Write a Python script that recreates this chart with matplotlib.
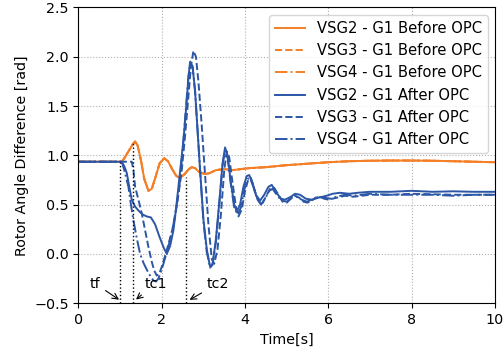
import matplotlib
matplotlib.use('Agg')
import matplotlib.pyplot as plt

plt.rcParams['font.size'] = 10.3

# orange: before OPC (all three traces lie on top of each other)
t_before = [0, 1.0, 1.05, 1.1, 1.2, 1.3, 1.36, 1.42, 1.5, 1.58, 1.68, 1.76, 1.85,
            1.95, 2.06, 2.15, 2.25, 2.35, 2.44, 2.55, 2.65, 2.72, 2.8, 2.9, 3.04,
            3.15, 3.3, 3.5, 3.7, 3.9, 4.1, 4.5, 5.0, 5.5, 6.0, 6.5, 7.0, 7.5, 8.0,
            8.5, 9.0, 9.5, 10]
vsg2_before = [0.935, 0.935, 0.94, 0.97, 1.04, 1.11, 1.14, 1.10, 0.95, 0.76, 0.64,
               0.66, 0.78, 0.92, 0.97, 0.94, 0.86, 0.79, 0.77, 0.81, 0.86, 0.88,
               0.87, 0.83, 0.81, 0.82, 0.85, 0.86, 0.85, 0.86, 0.87, 0.88, 0.90,
               0.915, 0.93, 0.94, 0.945, 0.947, 0.947, 0.945, 0.94, 0.935, 0.93]
vsg3_before = vsg2_before
vsg4_before = vsg2_before

# blue: after OPC
t_vsg2 = [0, 1.0, 1.04, 1.1, 1.16, 1.22, 1.28, 1.36, 1.44, 1.54, 1.64, 1.74, 1.84,
          1.94, 2.04, 2.12, 2.2, 2.28, 2.34, 2.4, 2.46, 2.52, 2.58, 2.64, 2.68,
          2.74, 2.8, 2.86, 2.92, 3.0, 3.08, 3.16, 3.22, 3.3, 3.38, 3.46, 3.52,
          3.58, 3.66, 3.74, 3.8, 3.88, 3.96, 4.04, 4.1, 4.18, 4.26, 4.36, 4.46,
          4.56, 4.64, 4.74, 4.86, 4.96, 5.1, 5.2, 5.32, 5.46, 5.6, 5.76, 5.96,
          6.1, 6.28, 6.5, 6.7, 7.0, 7.5, 8.0, 8.5, 9.0, 9.5, 10]
vsg2_after = [0.935, 0.935, 0.93, 0.89, 0.82, 0.68, 0.55, 0.48, 0.44, 0.40, 0.38,
              0.37, 0.30, 0.18, 0.07, 0.0, 0.08, 0.24, 0.45, 0.68, 0.92, 1.15,
              1.45, 1.78, 1.95, 1.90, 1.65, 1.25, 0.85, 0.35, 0.05, -0.13, -0.1,
              0.15, 0.52, 0.92, 1.08, 1.0, 0.72, 0.5, 0.43, 0.5, 0.68, 0.79, 0.80,
              0.72, 0.6, 0.54, 0.6, 0.68, 0.70, 0.63, 0.56, 0.55, 0.58, 0.61, 0.60,
              0.56, 0.55, 0.57, 0.59, 0.61, 0.62, 0.61, 0.62, 0.63, 0.63, 0.64,
              0.63, 0.635, 0.63, 0.63]

t_vsg3 = [0, 1.28, 1.32, 1.36, 1.44, 1.52, 1.6, 1.68, 1.76, 1.82, 1.88, 1.94, 2.0,
          2.08, 2.16, 2.24, 2.32, 2.4, 2.48, 2.56, 2.64, 2.7, 2.76, 2.82, 2.88,
          2.96, 3.04, 3.12, 3.2, 3.26, 3.34, 3.42, 3.5, 3.56, 3.62, 3.7, 3.78,
          3.84, 3.92, 4.0, 4.08, 4.14, 4.22, 4.3, 4.4, 4.5, 4.6, 4.7, 4.8, 4.9,
          5.0, 5.1, 5.2, 5.3, 5.4, 5.5, 5.6, 5.7, 5.8, 5.9, 6.0, 6.2, 6.4, 6.6,
          6.8, 7.0, 7.5, 8.0, 8.5, 9.0, 9.5, 10]
vsg3_after = [0.935, 0.935, 0.85, 0.68, 0.55, 0.41, 0.24, 0.07, -0.08, -0.17,
              -0.22, -0.2, -0.13, -0.02, 0.1, 0.22, 0.38, 0.6, 0.85, 1.2, 1.6,
              1.9, 2.06, 2.0, 1.75, 1.3, 0.8, 0.3, -0.05, -0.1, 0.05, 0.4, 0.85,
              1.04, 0.98, 0.72, 0.48, 0.38, 0.45, 0.64, 0.76, 0.77, 0.66, 0.55,
              0.5, 0.58, 0.66, 0.67, 0.6, 0.53, 0.52, 0.56, 0.59, 0.57, 0.53,
              0.52, 0.54, 0.57, 0.58, 0.56, 0.55, 0.57, 0.59, 0.58, 0.59, 0.6,
              0.6, 0.61, 0.605, 0.6, 0.6, 0.6]

t_vsg4 = [0, 1.04, 1.1, 1.2, 1.26, 1.32, 1.4, 1.48, 1.56, 1.64, 1.72, 1.8, 1.86,
          1.92, 1.98, 2.04, 2.12, 2.2, 2.28, 2.36, 2.44, 2.52, 2.58, 2.64, 2.68,
          2.74, 2.8, 2.86, 2.92, 3.0, 3.08, 3.16, 3.22, 3.3, 3.38, 3.46, 3.52,
          3.58, 3.66, 3.74, 3.82, 3.9, 3.98, 4.06, 4.12, 4.2, 4.28, 4.38, 4.48,
          4.58, 4.66, 4.76, 4.88, 5.0, 5.12, 5.24, 5.36, 5.48, 5.6, 5.74, 5.9,
          6.05, 6.2, 6.4, 6.6, 6.8, 7.0, 7.5, 8.0, 8.5, 9.0, 9.5, 10]
vsg4_after = [0.935, 0.935, 0.85, 0.68, 0.5, 0.34, 0.16, 0.0, -0.09, -0.16,
              -0.22, -0.27, -0.28, -0.25, -0.18, -0.1, 0.02, 0.14, 0.3, 0.5,
              0.75, 1.15, 1.48, 1.8, 1.93, 1.9, 1.65, 1.25, 0.85, 0.33, 0.02,
              -0.14, -0.11, 0.12, 0.5, 0.9, 1.05, 0.98, 0.7, 0.47, 0.4, 0.47,
              0.65, 0.76, 0.77, 0.68, 0.57, 0.5, 0.56, 0.64, 0.66, 0.6, 0.54,
              0.53, 0.57, 0.58, 0.55, 0.53, 0.55, 0.58, 0.57, 0.56, 0.58, 0.6,
              0.59, 0.6, 0.61, 0.6, 0.6, 0.6, 0.59, 0.6, 0.6]

# event markers: fault, first and second clearing
event_t = [1.0, 1.3, 2.58]
event_top = [0.935, 1.14, 0.78]
event_names = ['tf', 'tc1', 'tc2']
event_text_t = [0.4, 1.85, 3.35]

orange = '#f47f26'
blue = '#2c56a6'

fig = plt.figure(figsize=(5.03, 3.53), dpi=100)
ax = fig.add_axes([0.156, 0.141, 0.828, 0.838])

ax.plot(t_before, vsg2_before, '-', color=orange, lw=1.4, label='VSG2 - G1 Before OPC')
ax.plot(t_before, vsg3_before, '--', color=orange, lw=1.4, label='VSG3 - G1 Before OPC')
ax.plot(t_before, vsg4_before, '-.', color=orange, lw=1.4, label='VSG4 - G1 Before OPC')
ax.plot(t_vsg2, vsg2_after, '-', color=blue, lw=1.4, label='VSG2 - G1 After OPC')
ax.plot(t_vsg3, vsg3_after, '--', color=blue, lw=1.4, label='VSG3 - G1 After OPC')
ax.plot(t_vsg4, vsg4_after, '-.', color=blue, lw=1.4, label='VSG4 - G1 After OPC')

for x, top, name, xt in zip(event_t, event_top, event_names, event_text_t):
    ax.vlines(x, -0.5, top, colors='k', linestyles=':', lw=1)
    ax.annotate(name, xy=(x + 0.03, -0.48), xytext=(xt, -0.3),
                ha='center', va='center',
                arrowprops=dict(arrowstyle='->', color='k', lw=0.8))

ax.set_xlim(0, 10)
ax.set_ylim(-0.5, 2.5)
ax.set_xticks([0, 2, 4, 6, 8, 10])
ax.set_yticks([-0.5, 0.0, 0.5, 1.0, 1.5, 2.0, 2.5])
ax.grid(True, linestyle=':', color='#b0b0b0', lw=0.8)
ax.set_xlabel('Time[s]')
ax.set_ylabel('Rotor Angle Difference [rad]')
ax.legend(loc='upper right', fontsize=10.6)

plt.savefig('out.png', dpi=100)
